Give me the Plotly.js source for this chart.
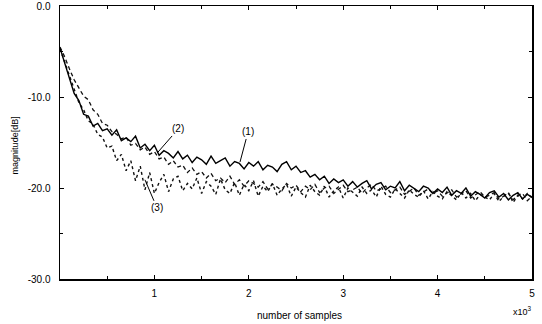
<!DOCTYPE html>
<html>
<head>
<meta charset="utf-8">
<script src="https://cdn.plot.ly/plotly-3.0.1.min.js"></script>
<style>html,body{margin:0;padding:0;background:#fff;}#chart{width:542px;height:324px;}</style>
</head>
<body>
<div id="chart"></div>
<script>
// sample positions (x10^3 samples)
var samples = [0.00,0.05,0.10,0.15,0.20,0.25,0.30,0.35,0.40,0.45,0.50,0.55,0.60,0.65,0.70,0.75,0.80,0.85,0.90,0.95,
1.00,1.05,1.10,1.15,1.20,1.25,1.30,1.35,1.40,1.45,1.50,1.55,1.60,1.65,1.70,1.75,1.80,1.85,1.90,1.95,
2.00,2.05,2.10,2.15,2.20,2.25,2.30,2.35,2.40,2.45,2.50,2.55,2.60,2.65,2.70,2.75,2.80,2.85,2.90,2.95,
3.00,3.05,3.10,3.15,3.20,3.25,3.30,3.35,3.40,3.45,3.50,3.55,3.60,3.65,3.70,3.75,3.80,3.85,3.90,3.95,
4.00,4.05,4.10,4.15,4.20,4.25,4.30,4.35,4.40,4.45,4.50,4.55,4.60,4.65,4.70,4.75,4.80,4.85,4.90,4.95,5.00];

// curve (1) solid
var curve1 = [-4.6,-6.3,-7.9,-9.6,-10.4,-11.9,-12.1,-13.2,-12.9,-13.7,-13.5,-14.2,-13.6,-14.8,-14.5,-14.9,-14.3,-15.6,-15.2,-15.9,
-15.3,-16.4,-15.9,-16.2,-16.7,-16.0,-16.8,-16.4,-17.2,-16.6,-16.9,-17.4,-16.5,-17.3,-17.0,-16.7,-17.6,-17.1,-17.3,-17.9,
-17.2,-17.6,-17.1,-18.0,-17.5,-17.7,-18.2,-17.4,-17.1,-18.0,-17.6,-18.3,-18.1,-18.8,-18.5,-19.1,-18.7,-19.5,-19.0,-19.4,
-19.1,-19.8,-19.3,-19.9,-19.5,-19.2,-20.1,-19.6,-19.4,-20.2,-19.8,-20.0,-19.3,-20.3,-19.7,-20.1,-20.4,-19.8,-20.0,-20.6,
-20.1,-20.5,-19.9,-20.8,-20.3,-20.6,-20.0,-20.9,-20.4,-20.7,-21.1,-20.5,-20.3,-21.0,-20.6,-21.3,-20.8,-20.5,-21.2,-20.7,-21.0];

// curve (2) dashed
var curve2 = [-4.5,-5.6,-6.9,-8.1,-9.0,-9.9,-10.3,-11.4,-11.9,-12.9,-13.1,-13.8,-14.1,-14.6,-14.4,-15.3,-15.1,-15.8,-15.5,-16.3,
-16.0,-16.8,-16.6,-17.4,-17.0,-17.7,-17.5,-18.3,-17.8,-18.5,-18.2,-18.9,-18.4,-19.2,-18.9,-19.4,-18.7,-19.6,-19.1,-19.8,
-19.2,-19.5,-19.9,-19.3,-20.1,-19.6,-19.9,-20.3,-19.5,-20.0,-19.7,-20.4,-19.8,-20.2,-19.6,-20.5,-20.0,-19.8,-20.6,-20.1,
-19.7,-20.4,-20.2,-19.9,-20.6,-20.0,-19.6,-20.3,-20.1,-19.8,-20.5,-20.2,-19.9,-20.7,-20.3,-20.0,-20.8,-20.4,-20.1,-20.6,
-20.3,-20.9,-20.5,-20.2,-21.0,-20.6,-20.3,-21.1,-20.7,-20.4,-21.0,-20.8,-20.5,-21.2,-20.9,-20.6,-21.3,-20.8,-20.6,-21.4,-20.9];

// curve (3) dotted
var curve3 = [-4.7,-6.2,-7.6,-9.2,-10.6,-11.4,-12.6,-13.0,-14.1,-14.4,-15.6,-15.4,-17.0,-16.3,-18.1,-17.0,-19.2,-17.6,-20.2,-18.3,
-20.6,-19.4,-18.5,-20.4,-19.0,-18.7,-20.3,-19.5,-20.1,-18.9,-20.6,-19.3,-19.8,-20.7,-19.0,-20.2,-20.6,-19.4,-20.8,-19.6,
-20.3,-19.2,-20.9,-19.8,-20.4,-19.5,-20.8,-20.1,-19.6,-20.9,-19.9,-20.5,-21.0,-19.7,-20.4,-20.8,-19.8,-21.0,-20.3,-19.9,
-21.1,-20.0,-20.5,-20.9,-19.9,-20.6,-20.2,-21.0,-19.8,-20.7,-21.0,-20.1,-20.6,-21.1,-20.2,-20.7,-21.0,-20.3,-21.2,-20.4,
-20.9,-21.2,-20.4,-20.8,-21.3,-20.5,-21.1,-20.6,-21.4,-20.7,-21.0,-21.3,-20.6,-21.5,-20.9,-20.5,-21.6,-20.8,-21.2,-20.6,-21.1];

var yTickVals = [0, -10, -20, -30];
var yTickText = ['0.0', '-10.0', '-20.0', '-30.0'];
var xTickVals = [1, 2, 3, 4, 5];
var xTickText = ['1', '2', '3', '4', '5'];

var FONT = 'Liberation Sans, Arial, sans-serif';

var traces = [
  {x: samples, y: curve3, mode: 'lines', line: {color: '#111', width: 1.4, dash: 'dot'}, hoverinfo: 'skip'},
  {x: samples, y: curve2, mode: 'lines', line: {color: '#111', width: 1.3, dash: '4px,3px'}, hoverinfo: 'skip'},
  {x: samples, y: curve1, mode: 'lines', line: {color: '#000', width: 1.4}, hoverinfo: 'skip'}
];

var axisCommon = {
  showgrid: false, zeroline: false, showline: true, linecolor: '#000', linewidth: 1.5,
  mirror: 'ticks', ticks: 'inside', ticklen: 4, tickwidth: 1, tickcolor: '#000',
  tickfont: {family: FONT, size: 10, color: '#000'}
};

var layout = {
  width: 542, height: 324,
  margin: {l: 60, r: 10, t: 6, b: 45},
  paper_bgcolor: '#fff', plot_bgcolor: '#fff',
  showlegend: false,
  xaxis: Object.assign({}, axisCommon, {
    range: [0, 5], tickvals: xTickVals, ticktext: xTickText,
    minor: {dtick: 0.5, tick0: 0, ticks: 'inside', ticklen: 3, tickcolor: '#000'},
    ticklabelstandoff: 4
  }),
  yaxis: Object.assign({}, axisCommon, {
    range: [-30, 0], tickvals: yTickVals, ticktext: yTickText,
    minor: {dtick: 5, tick0: 0, ticks: 'inside', ticklen: 3, tickcolor: '#000'},
    ticklabelstandoff: 6
  }),
  annotations: [
    {x: 1.907, y: -17.14, xref: 'x', yref: 'y', text: '(1)', showarrow: true, arrowhead: 0, arrowwidth: 1, arrowcolor: '#000', ax: 8, ay: -30, font: {family: FONT, size: 10, color: '#000'}},
    {x: 1.03, y: -16.15, xref: 'x', yref: 'y', text: '(2)', showarrow: true, arrowhead: 0, arrowwidth: 1, arrowcolor: '#000', ax: 21, ay: -24, font: {family: FONT, size: 10, color: '#000'}},
    {x: 0.90, y: -19.1, xref: 'x', yref: 'y', text: '(3)', showarrow: true, arrowhead: 0, arrowwidth: 1, arrowcolor: '#000', ax: 12, ay: 28, font: {family: FONT, size: 10, color: '#000'}},
    {x: 0.508, y: -0.1355, xref: 'paper', yref: 'paper', text: 'number of samples', showarrow: false, xanchor: 'center', yanchor: 'middle', font: {family: FONT, size: 10, color: '#000'}},
    {x: 1.005, y: -0.118, xref: 'paper', yref: 'paper', text: 'x10<sup>3</sup>', showarrow: false, xanchor: 'right', yanchor: 'middle', font: {family: FONT, size: 9, color: '#000'}},
    {x: -0.095, y: 0.49, xref: 'paper', yref: 'paper', text: 'magnitude[dB]', showarrow: false, textangle: -90, xanchor: 'center', yanchor: 'middle', font: {family: FONT, size: 9, color: '#000'}}
  ]
};

Plotly.newPlot('chart', traces, layout, {displayModeBar: false, staticPlot: true});
</script>
</body>
</html>
